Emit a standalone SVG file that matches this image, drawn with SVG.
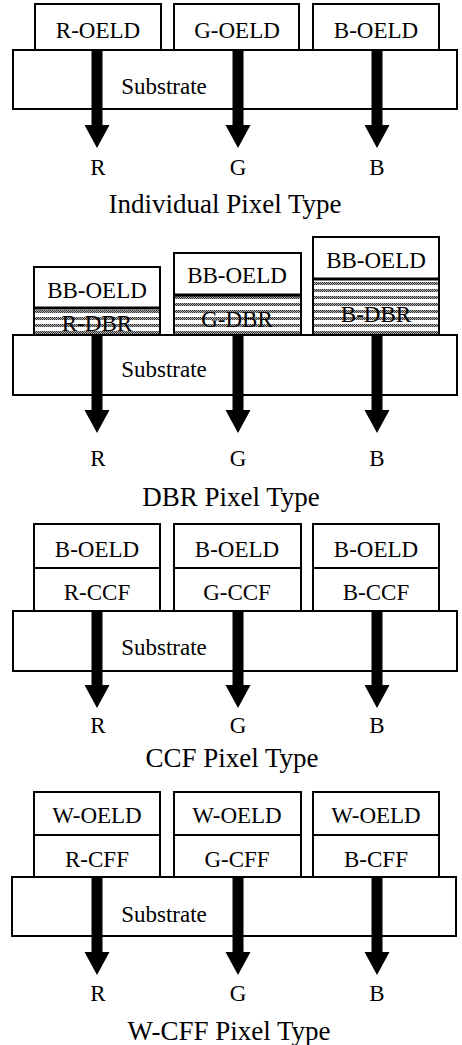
<svg xmlns="http://www.w3.org/2000/svg" width="462" height="1045" viewBox="0 0 462 1045">
<style>
.box{fill:#fff;stroke:#000;stroke-width:2}
.hatch{fill:url(#stripes);stroke:#000;stroke-width:2}
.div{stroke:#000;stroke-width:3}
.lbl{font-family:"Liberation Serif","Times New Roman",serif;font-size:23px;fill:#000;text-anchor:middle}
.cap{font-family:"Liberation Serif","Times New Roman",serif;font-size:27px;fill:#000;text-anchor:middle}
.arr{fill:#000;stroke:none}
</style>
<defs>
<pattern id="stripes" patternUnits="userSpaceOnUse" width="4" height="7" y="1">
<rect x="0" y="0" width="4" height="7" fill="#fff"/>
<rect x="0" y="1" width="4" height="3" fill="#b0b0b0"/>
<rect x="0" y="1" width="1" height="1" fill="#333"/>
<rect x="2" y="1" width="1" height="1" fill="#333"/>
<rect x="1" y="2" width="1" height="1" fill="#333"/>
<rect x="3" y="2" width="1" height="1" fill="#333"/>
<rect x="0" y="3" width="1" height="1" fill="#333"/>
<rect x="2" y="3" width="1" height="1" fill="#333"/>
</pattern>
</defs>

<!-- Section 1: Individual Pixel Type -->
<g id="s1-substrate"><rect class="box" x="13" y="50" width="444" height="59"/><text class="lbl" x="164" y="94">Substrate</text></g>
<g id="s1-r-oeld"><rect class="box" x="35" y="4" width="126" height="46"/><text class="lbl" x="98" y="38">R-OELD</text></g>
<g id="s1-g-oeld"><rect class="box" x="174" y="4" width="125" height="46"/><text class="lbl" x="237" y="38">G-OELD</text></g>
<g id="s1-b-oeld"><rect class="box" x="313" y="4" width="126" height="46"/><text class="lbl" x="376" y="38">B-OELD</text></g>

<!-- Section 2: DBR Pixel Type -->
<g id="s2-substrate"><rect class="box" x="13" y="335" width="444" height="60"/><text class="lbl" x="164" y="377">Substrate</text></g>
<g id="s2-r"><rect class="box" x="34" y="267" width="126" height="41"/><rect class="hatch" x="34" y="308" width="126" height="27"/><line class="div" x1="34" y1="308" x2="160" y2="308"/><text class="lbl" x="97" y="298">BB-OELD</text><text class="lbl" x="97" y="331">R-DBR</text></g>
<g id="s2-g"><rect class="box" x="174" y="253" width="127" height="42"/><rect class="hatch" x="174" y="295" width="127" height="40"/><line class="div" x1="174" y1="295" x2="301" y2="295"/><text class="lbl" x="237" y="283">BB-OELD</text><text class="lbl" x="237" y="327">G-DBR</text></g>
<g id="s2-b"><rect class="box" x="313" y="237" width="126" height="42"/><rect class="hatch" x="313" y="279" width="126" height="56"/><line class="div" x1="313" y1="279" x2="439" y2="279"/><text class="lbl" x="376" y="268">BB-OELD</text><text class="lbl" x="376" y="322">B-DBR</text></g>

<!-- Section 3: CCF Pixel Type -->
<g id="s3-substrate"><rect class="box" x="13" y="611" width="444" height="60"/><text class="lbl" x="164" y="655">Substrate</text></g>
<g id="s3-r"><rect class="box" x="34" y="524" width="126" height="44"/><rect class="box" x="34" y="568" width="126" height="43"/><text class="lbl" x="97" y="557">B-OELD</text><text class="lbl" x="97" y="600">R-CCF</text></g>
<g id="s3-g"><rect class="box" x="174" y="524" width="127" height="44"/><rect class="box" x="174" y="568" width="127" height="43"/><text class="lbl" x="237" y="557">B-OELD</text><text class="lbl" x="237" y="600">G-CCF</text></g>
<g id="s3-b"><rect class="box" x="313" y="524" width="126" height="44"/><rect class="box" x="313" y="568" width="126" height="43"/><text class="lbl" x="376" y="557">B-OELD</text><text class="lbl" x="376" y="600">B-CCF</text></g>

<!-- Section 4: W-CFF Pixel Type -->
<g id="s4-substrate"><rect class="box" x="12" y="877" width="444" height="59"/><text class="lbl" x="164" y="922">Substrate</text></g>
<g id="s4-r"><rect class="box" x="34" y="792" width="126" height="43"/><rect class="box" x="34" y="835" width="126" height="42"/><text class="lbl" x="97" y="823">W-OELD</text><text class="lbl" x="97" y="867">R-CFF</text></g>
<g id="s4-g"><rect class="box" x="174" y="792" width="127" height="43"/><rect class="box" x="174" y="835" width="127" height="42"/><text class="lbl" x="237" y="823">W-OELD</text><text class="lbl" x="237" y="867">G-CFF</text></g>
<g id="s4-b"><rect class="box" x="313" y="792" width="126" height="43"/><rect class="box" x="313" y="835" width="126" height="42"/><text class="lbl" x="376" y="823">W-OELD</text><text class="lbl" x="376" y="867">B-CFF</text></g>

<!-- Connectors: light output arrows -->
<g id="connectors">
<path class="arr" d="M91.5 50H102.5V125H109.5L97 148L84.5 125H91.5Z"/>
<path class="arr" d="M232.5 50H243.5V125H250.5L238 148L225.5 125H232.5Z"/>
<path class="arr" d="M371.5 50H382.5V125H389.5L377 148L364.5 125H371.5Z"/>
<path class="arr" d="M91.5 335H102.5V410H109.5L97 433L84.5 410H91.5Z"/>
<path class="arr" d="M232.5 335H243.5V410H250.5L238 433L225.5 410H232.5Z"/>
<path class="arr" d="M371.5 335H382.5V410H389.5L377 433L364.5 410H371.5Z"/>
<path class="arr" d="M91.5 611H102.5V685H109.5L97 708L84.5 685H91.5Z"/>
<path class="arr" d="M232.5 611H243.5V685H250.5L238 708L225.5 685H232.5Z"/>
<path class="arr" d="M371.5 611H382.5V685H389.5L377 708L364.5 685H371.5Z"/>
<path class="arr" d="M91.5 877H102.5V952H109.5L97 975L84.5 952H91.5Z"/>
<path class="arr" d="M232.5 877H243.5V952H250.5L238 975L225.5 952H232.5Z"/>
<path class="arr" d="M371.5 877H382.5V952H389.5L377 975L364.5 952H371.5Z"/>
</g>

<!-- Output labels and captions -->
<g id="labels">
<text class="lbl" x="98" y="175">R</text><text class="lbl" x="238" y="175">G</text><text class="lbl" x="377" y="175">B</text>
<text class="cap" x="225" y="213">Individual Pixel Type</text>
<text class="lbl" x="98" y="466">R</text><text class="lbl" x="238" y="466">G</text><text class="lbl" x="377" y="466">B</text>
<text class="cap" x="231" y="506">DBR Pixel Type</text>
<text class="lbl" x="98" y="733">R</text><text class="lbl" x="238" y="733">G</text><text class="lbl" x="377" y="733">B</text>
<text class="cap" x="232" y="767">CCF Pixel Type</text>
<text class="lbl" x="98" y="1001">R</text><text class="lbl" x="238" y="1001">G</text><text class="lbl" x="377" y="1001">B</text>
<text class="cap" x="229" y="1040">W-CFF Pixel Type</text>
</g>
</svg>
